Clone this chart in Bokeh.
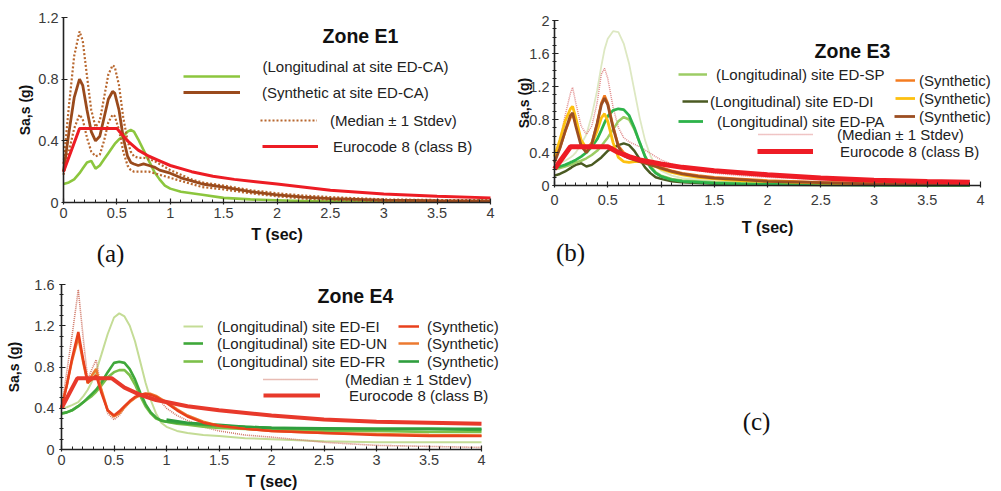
from bokeh.plotting import figure
from bokeh.models import (Range1d, FixedTicker, Label, Legend, LegendItem, NumeralTickFormatter,
                          LinearAxis)
from bokeh.embed import file_html
from bokeh.resources import INLINE

FONT = "Liberation Sans"
SERIF = "Liberation Serif"

# ---------------- data: panel (a) Zone E1 ----------------
a_T = [0, 0.05, 0.1, 0.15, 0.18, 0.22, 0.26, 0.3, 0.34, 0.38, 0.42, 0.46, 0.48, 0.52, 0.56, 0.6,
       0.63, 0.66, 0.7, 0.75, 0.8, 0.85, 0.9, 0.95, 1.0, 1.1, 1.2, 1.3, 1.5, 1.75, 2.0, 2.25, 2.5, 3.0, 3.5, 4.0]
a_long = [0.12, 0.13, 0.15, 0.19, 0.22, 0.26, 0.27, 0.22, 0.24, 0.28, 0.32, 0.36, 0.38, 0.41, 0.43, 0.46,
          0.47, 0.46, 0.41, 0.34, 0.27, 0.20, 0.15, 0.11, 0.09, 0.07, 0.06, 0.05, 0.03, 0.02, 0.015, 0.01, 0.01, 0.005, 0.005, 0.005]
a_syn = [0.20, 0.45, 0.68, 0.80, 0.76, 0.60, 0.46, 0.40, 0.43, 0.55, 0.67, 0.72, 0.71, 0.60, 0.42, 0.30,
         0.26, 0.25, 0.24, 0.25, 0.24, 0.23, 0.21, 0.20, 0.19, 0.16, 0.14, 0.12, 0.10, 0.07, 0.05, 0.035, 0.025, 0.015, 0.012, 0.01]
a_hi = [0.25, 0.62, 0.95, 1.11, 1.05, 0.82, 0.60, 0.49, 0.53, 0.68, 0.83, 0.89, 0.88, 0.76, 0.55, 0.40,
        0.33, 0.30, 0.29, 0.29, 0.28, 0.27, 0.25, 0.23, 0.21, 0.18, 0.15, 0.13, 0.11, 0.08, 0.06, 0.045, 0.035, 0.02, 0.016, 0.015]
a_lo = [0.18, 0.33, 0.48, 0.57, 0.54, 0.42, 0.33, 0.30, 0.31, 0.40, 0.52, 0.57, 0.56, 0.47, 0.33, 0.24,
        0.21, 0.20, 0.20, 0.20, 0.20, 0.19, 0.18, 0.17, 0.16, 0.14, 0.12, 0.10, 0.085, 0.06, 0.04, 0.025, 0.018, 0.01, 0.008, 0.006]
a_ec8_T = [0, 0.15, 0.5, 0.6, 0.7, 0.8, 0.9, 1.0, 1.2, 1.4, 1.6, 1.8, 2.0, 2.5, 3.0, 3.5, 4.0]
a_ec8 = [0.20, 0.48, 0.48, 0.40, 0.34, 0.30, 0.27, 0.24, 0.20, 0.17, 0.15, 0.135, 0.12, 0.08, 0.055, 0.04, 0.03]

# ---------------- data: panel (b) Zone E3 ----------------
b_T = [0, 0.05, 0.1, 0.15, 0.17, 0.2, 0.25, 0.3, 0.35, 0.4, 0.44, 0.47, 0.5, 0.55, 0.6, 0.65, 0.7,
       0.75, 0.8, 0.85, 0.9, 0.95, 1.0, 1.1, 1.2, 1.35, 1.5, 1.75, 2.0, 2.5, 3.0, 3.5, 3.9]
b_sp = [0.20, 0.21, 0.23, 0.25, 0.26, 0.28, 0.30, 0.33, 0.37, 0.42, 0.48, 0.53, 0.58, 0.68, 0.78, 0.83, 0.80,
        0.68, 0.52, 0.36, 0.24, 0.16, 0.12, 0.08, 0.06, 0.05, 0.04, 0.03, 0.02, 0.015, 0.01, 0.01, 0.01]
b_di = [0.12, 0.14, 0.17, 0.21, 0.23, 0.25, 0.27, 0.23, 0.25, 0.30, 0.34, 0.38, 0.42, 0.46, 0.49, 0.51, 0.49,
        0.42, 0.32, 0.22, 0.15, 0.10, 0.08, 0.05, 0.04, 0.03, 0.02, 0.015, 0.01, 0.005, 0.005, 0.0, 0.0]
b_pa = [0.22, 0.23, 0.25, 0.28, 0.29, 0.31, 0.35, 0.40, 0.47, 0.56, 0.67, 0.76, 0.84, 0.91, 0.93, 0.92, 0.85,
        0.70, 0.52, 0.35, 0.22, 0.15, 0.11, 0.07, 0.05, 0.04, 0.03, 0.02, 0.015, 0.01, 0.005, 0.005, 0.005]
b_syn_orange = [0.30, 0.45, 0.65, 0.82, 0.86, 0.75, 0.52, 0.44, 0.52, 0.75, 1.00, 1.09, 1.00, 0.72, 0.48, 0.40, 0.36,
                0.33, 0.31, 0.29, 0.27, 0.24, 0.22, 0.18, 0.15, 0.12, 0.10, 0.08, 0.06, 0.04, 0.03, 0.02, 0.015]
b_syn_yellow = [0.35, 0.55, 0.78, 0.93, 0.96, 0.82, 0.55, 0.45, 0.50, 0.66, 0.82, 0.87, 0.78, 0.52, 0.34, 0.29, 0.28,
                0.29, 0.29, 0.28, 0.26, 0.23, 0.20, 0.16, 0.13, 0.10, 0.08, 0.06, 0.05, 0.03, 0.02, 0.015, 0.01]
b_syn_brown = [0.28, 0.45, 0.66, 0.85, 0.88, 0.72, 0.48, 0.40, 0.50, 0.75, 0.98, 1.06, 0.98, 0.70, 0.47, 0.36, 0.33,
               0.31, 0.29, 0.27, 0.25, 0.23, 0.21, 0.17, 0.14, 0.11, 0.09, 0.07, 0.05, 0.035, 0.02, 0.015, 0.01]
b_stdev = [0.30, 0.55, 0.85, 1.12, 1.19, 1.00, 0.72, 0.62, 0.72, 1.00, 1.35, 1.42, 1.30, 0.95, 0.70, 0.58, 0.53,
           0.50, 0.47, 0.43, 0.39, 0.35, 0.31, 0.26, 0.22, 0.18, 0.15, 0.12, 0.10, 0.07, 0.05, 0.035, 0.025]
b_long_stdev = [0.25, 0.27, 0.30, 0.34, 0.36, 0.40, 0.50, 0.62, 0.85, 1.15, 1.45, 1.65, 1.78, 1.87, 1.86, 1.72, 1.48,
                1.15, 0.82, 0.55, 0.36, 0.25, 0.18, 0.12, 0.09, 0.07, 0.05, 0.04, 0.03, 0.02, 0.015, 0.01, 0.01]
b_ec8_T = [0, 0.15, 0.5, 0.6, 0.7, 0.8, 1.0, 1.2, 1.5, 2.0, 2.5, 3.0, 3.5, 3.9]
b_ec8 = [0.20, 0.47, 0.47, 0.40, 0.35, 0.31, 0.26, 0.22, 0.18, 0.13, 0.09, 0.065, 0.05, 0.04]

# ---------------- data: panel (c) Zone E4 ----------------
c_T = [0, 0.05, 0.1, 0.16, 0.21, 0.25, 0.29, 0.33, 0.38, 0.44, 0.5, 0.55, 0.6, 0.65, 0.7, 0.75, 0.8,
       0.85, 0.9, 0.95, 1.0, 1.1, 1.2, 1.35, 1.5, 1.75, 2.0, 2.5, 3.0, 3.5, 4.0]
c_ei = [0.40, 0.41, 0.43, 0.46, 0.52, 0.58, 0.66, 0.76, 0.92, 1.12, 1.28, 1.32, 1.29, 1.20, 1.05, 0.85, 0.65,
        0.48, 0.35, 0.26, 0.22, 0.18, 0.16, 0.14, 0.13, 0.11, 0.10, 0.08, 0.07, 0.07, 0.07]
c_un = [0.35, 0.36, 0.38, 0.42, 0.46, 0.50, 0.54, 0.58, 0.65, 0.75, 0.84, 0.85, 0.84, 0.78, 0.68, 0.55, 0.44,
        0.36, 0.31, 0.28, 0.27, 0.26, 0.25, 0.24, 0.23, 0.22, 0.21, 0.20, 0.20, 0.20, 0.19]
c_fr = [0.35, 0.36, 0.38, 0.42, 0.46, 0.49, 0.52, 0.56, 0.62, 0.70, 0.75, 0.77, 0.77, 0.72, 0.63, 0.52, 0.42,
        0.35, 0.30, 0.28, 0.27, 0.25, 0.24, 0.22, 0.21, 0.20, 0.19, 0.18, 0.18, 0.17, 0.17]
c_syn_red = [0.40, 0.62, 0.88, 1.14, 0.85, 0.65, 0.68, 0.72, 0.55, 0.38, 0.33, 0.37, 0.42, 0.47, 0.51, 0.53, 0.54,
             0.53, 0.51, 0.48, 0.45, 0.38, 0.32, 0.26, 0.23, 0.20, 0.18, 0.16, 0.14, 0.13, 0.13]
c_syn_orange = [0.42, 0.62, 0.86, 1.09, 0.83, 0.64, 0.72, 0.78, 0.58, 0.38, 0.32, 0.35, 0.41, 0.46, 0.50, 0.53, 0.54,
                0.54, 0.52, 0.49, 0.46, 0.39, 0.33, 0.27, 0.23, 0.20, 0.18, 0.16, 0.15, 0.14, 0.135]
c_syn_green_T = [1.0, 1.2, 1.5, 1.75, 2.0, 2.5, 3.0, 3.5, 4.0]
c_syn_green = [0.29, 0.26, 0.24, 0.22, 0.21, 0.205, 0.20, 0.20, 0.20]
c_stdev = [0.40, 0.75, 1.10, 1.55, 1.05, 0.68, 0.78, 0.87, 0.58, 0.35, 0.29, 0.33, 0.40, 0.46, 0.50, 0.52, 0.53,
           0.52, 0.50, 0.46, 0.40, 0.33, 0.28, 0.22, 0.18, 0.14, 0.12, 0.07, 0.04, 0.03, 0.02]
c_ec8_T = [0, 0.15, 0.48, 0.6, 0.75, 0.9, 1.0, 1.2, 1.5, 2.0, 2.5, 3.0, 3.5, 4.0]
c_ec8 = [0.40, 0.69, 0.69, 0.60, 0.53, 0.48, 0.46, 0.42, 0.38, 0.33, 0.29, 0.27, 0.26, 0.25]

# ---------------- ticks ----------------
x_ticks = [0, 0.5, 1, 1.5, 2, 2.5, 3, 3.5, 4]
a_yticks = [0, 0.4, 0.8, 1.2]
b_yticks = [0, 0.4, 0.8, 1.2, 1.6, 2.0]
c_yticks = [0, 0.4, 0.8, 1.2, 1.6]

# ---------------- layout (page pixels) ----------------
W, H = 1000, 490
GEO = {  # plot area of each panel: left, right, top, bottom (x 0..4, y 0..ymax)
    "a": (63, 490, 17, 202, 1.2),
    "b": (554, 980, 20, 185, 2.0),
    "c": (61, 481, 284, 449, 1.6),
}

p = figure(width=W, height=H, x_range=Range1d(0, W), y_range=Range1d(H, 0),
           x_axis_location=None, y_axis_location=None,
           output_backend="svg", toolbar_location=None, min_border=0)
p.min_border_left = p.min_border_right = p.min_border_top = p.min_border_bottom = 0
p.outline_line_color = None
p.xgrid.visible = False
p.ygrid.visible = False
p.background_fill_color = "white"
p.border_fill_color = "white"

for name, (L, R, T, B, ymax) in GEO.items():
    sx = (R - L) / 4.0
    sy = (B - T) / ymax
    p.extra_x_ranges[name + "x"] = Range1d(-L / sx, (W - L) / sx)
    p.extra_y_ranges[name + "y"] = Range1d(-(H - B) / sy, B / sy)


def style_axis(ax):
    ax.axis_line_width = 1.6
    ax.axis_line_color = "#222222"
    ax.major_tick_line_color = "#222222"
    ax.minor_tick_line_color = "#222222"
    ax.major_tick_line_width = 1.2
    ax.minor_tick_line_width = 1.0
    ax.major_label_text_font = FONT
    ax.major_label_text_font_size = "14.5px"
    ax.major_label_text_color = "#3a3a3a"
    ax.axis_label_text_font = FONT
    ax.axis_label_text_font_style = "bold"
    ax.axis_label_text_color = "#111111"
    ax.formatter = NumeralTickFormatter(format="0.[0]")


def add_axes(name, yticks, yminor, xl_std, xt_std, yl_std, yt_std):
    ymax = GEO[name][4]
    xa = LinearAxis(x_range_name=name + "x", y_range_name=name + "y", fixed_location=0, bounds=(0, 4),
                    ticker=FixedTicker(ticks=x_ticks, minor_ticks=[i / 10 for i in range(41)]))
    style_axis(xa)
    xa.major_tick_in = 4
    xa.major_tick_out = 2
    xa.minor_tick_in = 3
    xa.minor_tick_out = 0
    xa.major_label_standoff = xl_std
    xa.axis_label = "T (sec)"
    xa.axis_label_standoff = xt_std
    xa.axis_label_text_font_size = "16px"
    p.add_layout(xa, "below")
    ya = LinearAxis(x_range_name=name + "x", y_range_name=name + "y", fixed_location=0, bounds=(0, ymax),
                    ticker=FixedTicker(ticks=yticks, minor_ticks=yminor))
    style_axis(ya)
    ya.major_tick_in = 4
    ya.major_tick_out = 2
    ya.minor_tick_in = 2
    ya.minor_tick_out = 2
    ya.major_label_standoff = yl_std
    ya.axis_label = "Sa,s (g)"
    ya.axis_label_standoff = yt_std
    ya.axis_label_text_font_size = "14px"
    p.add_layout(ya, "left")


def text(X, Y, s, size, style="normal", font=FONT, color="#111111", align="center"):
    p.add_layout(Label(x=X, y=Y, text=s, text_font=font, text_font_size=size,
                       text_font_style=style, text_align=align, text_baseline="middle",
                       text_color=color))


def key(r, s, x0, x1, yc, xt):
    h = 18
    leg = Legend(items=[LegendItem(label=s, renderers=[r])],
                 location=(x0, H - (yc + h / 2)),
                 glyph_width=x1 - x0, glyph_height=h, label_height=h,
                 label_standoff=xt - x1, padding=0, margin=0, spacing=0,
                 border_line_color=None, background_fill_alpha=0,
                 label_text_font=FONT, label_text_font_size="15px",
                 label_text_color="#222222")
    p.add_layout(leg)


def line(name, x, y, **kw):
    return p.line(x, y, x_range_name=name + "x", y_range_name=name + "y", **kw)


# ---------------- panel (a) ----------------
add_axes("a", a_yticks, [], 3, 5, 3, 2)
ra_long = line("a", a_T, a_long, line_color="#8cc63e", line_width=2.6)
ra_hi = line("a", a_T, a_hi, line_color="#b8672e", line_width=2.2, line_dash="2 2")
ra_lo = line("a", a_T, a_lo, line_color="#b8672e", line_width=2.2, line_dash="2 2")
ra_syn = line("a", a_T, a_syn, line_color="#9a4a1c", line_width=2.8)
ra_ec8 = line("a", a_ec8_T, a_ec8, line_color="#ed1c24", line_width=3)
text(360, 35, "Zone E1", "19.5px", "bold")
text(110, 253, "(a)", "25px", font=SERIF)
# first key: its text sits above its line sample
key(ra_long, " ", 183, 240, 76, 262)
text(262, 66, "(Longitudinal at site ED-CA)", "15px", color="#222222", align="left")
key(ra_syn, "(Synthetic at site ED-CA)", 183, 240, 92, 262)
key(ra_hi, "(Median \u00b1 1 Stdev)", 260, 317, 120, 330)
key(ra_ec8, "Eurocode 8 (class B)", 262, 318, 146, 333)

# ---------------- panel (b) ----------------
add_axes("b", b_yticks, [i / 10 for i in range(21)], 7, 11, 3, -6)
line("b", b_T, b_long_stdev, line_color="#dde8c2", line_width=1.8)
rb_std = line("b", b_T, b_stdev, line_color="#e08a8a", line_width=1.5, line_dash="1 1")
rb_di = line("b", b_T, b_di, line_color="#4a5a22", line_width=2.5)
rb_sp = line("b", b_T, b_sp, line_color="#9ccc65", line_width=2.5)
rb_pa = line("b", b_T, b_pa, line_color="#2db34a", line_width=2.8)
rb_or = line("b", b_T, b_syn_orange, line_color="#f47c20", line_width=2.5)
rb_ye = line("b", b_T, b_syn_yellow, line_color="#fdc010", line_width=2.8)
rb_br = line("b", b_T, b_syn_brown, line_color="#9c4e22", line_width=2.8)
rb_ec8 = line("b", b_ec8_T, b_ec8, line_color="#ee1c25", line_width=5)
text(852, 50, "Zone E3", "19.5px", "bold")
text(570, 252, "(b)", "25px", font=SERIF)
key(rb_sp, "(Longitudinal) site ED-SP", 678, 707, 74, 716)
key(rb_di, "(Longitudinal) site ED-DI", 682, 708, 101, 710)
key(rb_pa, "(Longitudinal) site ED-PA", 678, 703, 121, 717)
key(rb_or, "(Synthetic)", 895, 915, 80, 919)
key(rb_ye, "(Synthetic)", 895, 915, 98, 919)
key(rb_br, "(Synthetic)", 894, 915, 116, 919)
key(rb_std, "(Median \u00b1 1 Stdev)", 758, 813, 134, 837)
key(rb_ec8, "Eurocode 8 (class B)", 757, 813, 151, 840)

# ---------------- panel (c) ----------------
add_axes("c", c_yticks, [i / 10 for i in range(17)], 3, 5, 5, 9)
rc_ei = line("c", c_T, c_ei, line_color="#c4dc96", line_width=2)
rc_std = line("c", c_T, c_stdev, line_color="#d07868", line_width=1.6, line_dash="1 1")
rc_fr = line("c", c_T, c_fr, line_color="#7cc04a", line_width=2.6)
rc_un = line("c", c_T, c_un, line_color="#3fa83a", line_width=2.6)
rc_sg = line("c", c_syn_green_T, c_syn_green, line_color="#2f9e3e", line_width=2.6)
rc_or = line("c", c_T, c_syn_orange, line_color="#ec7a30", line_width=2.5)
rc_rd = line("c", c_T, c_syn_red, line_color="#e8401c", line_width=2.5)
rc_ec8 = line("c", c_ec8_T, c_ec8, line_color="#e8392b", line_width=4)
text(355, 295, "Zone E4", "19.5px", "bold")
text(756, 421, "(c)", "25px", font=SERIF)
key(rc_ei, "(Longitudinal) site ED-EI", 183, 203, 326, 217)
key(rc_un, "(Longitudinal) site ED-UN", 183, 203, 343, 217)
key(rc_fr, "(Longitudinal) site ED-FR", 183, 203, 361, 217)
key(rc_rd, "(Synthetic)", 398, 419, 326, 427)
key(rc_or, "(Synthetic)", 398, 419, 343, 427)
key(rc_sg, "(Synthetic)", 398, 419, 361, 427)
key(rc_std, "(Median \u00b1 1 Stdev)", 263, 318, 379, 345)
key(rc_ec8, "Eurocode 8 (class B)", 263, 320, 395, 349)

open("out.html", "w").write(file_html(p, INLINE))
